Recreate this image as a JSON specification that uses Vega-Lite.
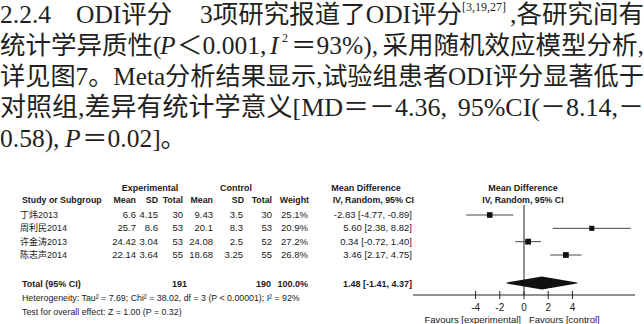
{
  "$schema": "https://vega.github.io/schema/vega-lite/v6.json",
  "width": 644,
  "height": 324,
  "autosize": "none",
  "padding": 0,
  "background": "white",
  "config": {
    "view": {"stroke": null},
    "text": {"font": "Liberation Sans, Noto Sans CJK SC", "color": "#1a1a1a", "baseline": "middle", "fontSize": 9.5}
  },
  "datasets": {
    "studies": [
      {"study": "丁炜2013", "em": 6.6, "esd": 4.15, "en": 30, "cm": 9.43, "csd": 3.5, "cn": 30, "weight": 25.1, "md": -2.83, "lo": -4.77, "hi": -0.89},
      {"study": "周利民2014", "em": 25.7, "esd": 8.6, "en": 53, "cm": 20.1, "csd": 8.3, "cn": 53, "weight": 20.9, "md": 5.60, "lo": 2.38, "hi": 8.82},
      {"study": "许金涛2013", "em": 24.42, "esd": 3.04, "en": 53, "cm": 24.08, "csd": 2.5, "cn": 52, "weight": 27.2, "md": 0.34, "lo": -0.72, "hi": 1.40},
      {"study": "陈志声2014", "em": 22.14, "esd": 3.64, "en": 55, "cm": 18.68, "csd": 3.25, "cn": 55, "weight": 26.8, "md": 3.46, "lo": 2.17, "hi": 4.75}
    ],
    "pooled": [
      {"md": 1.48, "lo": -1.41, "hi": 4.37, "en": 191, "cn": 190, "weight": 100}
    ],
    "ticks": [{"t": -4}, {"t": -2}, {"t": 0}, {"t": 2}, {"t": 4}],
    "blank": [{}]
  },
  "layer": [
    {"data": {"name": "blank"}, "mark": {"type": "text", "text": "2.2.4", "x": 0, "y": 15, "align": "left", "font": "Liberation Serif, Noto Sans CJK SC", "fontSize": 25.5, "color": "#231f20"}},
    {"data": {"name": "blank"}, "mark": {"type": "text", "text": "ODI评分", "x": 76, "y": 15, "align": "left", "font": "Liberation Serif, Noto Sans CJK SC", "fontSize": 25.5, "color": "#231f20"}},
    {"data": {"name": "blank"}, "mark": {"type": "text", "text": "3项研究报道了ODI评分", "x": 200, "y": 15, "align": "left", "font": "Liberation Serif, Noto Sans CJK SC", "fontSize": 25.5, "color": "#231f20"}},
    {"data": {"name": "blank"}, "mark": {"type": "text", "text": "[3,19,27]", "x": 462, "y": 7, "align": "left", "font": "Liberation Serif", "fontSize": 12, "color": "#231f20"}},
    {"data": {"name": "blank"}, "mark": {"type": "text", "text": ",各研究间有", "x": 644, "y": 15, "align": "right", "font": "Liberation Serif, Noto Sans CJK SC", "fontSize": 25.5, "color": "#231f20"}},

    {"data": {"name": "blank"}, "mark": {"type": "text", "text": "统计学异质性(", "x": 0, "y": 46, "align": "left", "font": "Liberation Serif, Noto Sans CJK SC", "fontSize": 25.5, "color": "#231f20"}},
    {"data": {"name": "blank"}, "mark": {"type": "text", "text": "P", "x": 160, "y": 46, "align": "left", "font": "Liberation Serif", "fontStyle": "italic", "fontSize": 25.5, "color": "#231f20"}},
    {"data": {"name": "blank"}, "mark": {"type": "text", "text": "＜0.001,", "x": 177, "y": 46, "align": "left", "font": "Liberation Serif, Noto Sans CJK SC", "fontSize": 25.5, "color": "#231f20"}},
    {"data": {"name": "blank"}, "mark": {"type": "text", "text": "I", "x": 270, "y": 46, "align": "left", "font": "Liberation Serif", "fontStyle": "italic", "fontSize": 25.5, "color": "#231f20"}},
    {"data": {"name": "blank"}, "mark": {"type": "text", "text": "2", "x": 282, "y": 38, "align": "left", "font": "Liberation Serif", "fontSize": 12, "color": "#231f20"}},
    {"data": {"name": "blank"}, "mark": {"type": "text", "text": "＝93%),", "x": 291, "y": 46, "align": "left", "font": "Liberation Serif, Noto Sans CJK SC", "fontSize": 25.5, "color": "#231f20"}},
    {"data": {"name": "blank"}, "mark": {"type": "text", "text": "采用随机效应模型分析,", "x": 644, "y": 46, "align": "right", "font": "Liberation Serif, Noto Sans CJK SC", "fontSize": 25.5, "color": "#231f20"}},

    {"data": {"name": "blank"}, "mark": {"type": "text", "text": "详见图7。Meta分析结果显示,", "x": 0, "y": 77, "align": "left", "font": "Liberation Serif, Noto Sans CJK SC", "fontSize": 25.2, "color": "#231f20"}},
    {"data": {"name": "blank"}, "mark": {"type": "text", "text": "试验组患者ODI评分显著低于", "x": 644, "y": 77, "align": "right", "font": "Liberation Serif, Noto Sans CJK SC", "fontSize": 25.2, "color": "#231f20"}},

    {"data": {"name": "blank"}, "mark": {"type": "text", "text": "对照组,差异有统计学意义[MD＝－4.36,", "x": 0, "y": 108, "align": "left", "font": "Liberation Serif, Noto Sans CJK SC", "fontSize": 26, "color": "#231f20"}},
    {"data": {"name": "blank"}, "mark": {"type": "text", "text": "95%CI(－8.14,－", "x": 644, "y": 108, "align": "right", "font": "Liberation Serif, Noto Sans CJK SC", "fontSize": 26, "color": "#231f20"}},

    {"data": {"name": "blank"}, "mark": {"type": "text", "text": "0.58),", "x": 0, "y": 139, "align": "left", "font": "Liberation Serif, Noto Sans CJK SC", "fontSize": 25.5, "color": "#231f20"}},
    {"data": {"name": "blank"}, "mark": {"type": "text", "text": "P", "x": 65, "y": 139, "align": "left", "font": "Liberation Serif", "fontStyle": "italic", "fontSize": 25.5, "color": "#231f20"}},
    {"data": {"name": "blank"}, "mark": {"type": "text", "text": "＝0.02]。", "x": 82, "y": 139, "align": "left", "font": "Liberation Serif, Noto Sans CJK SC", "fontSize": 25.5, "color": "#231f20"}},

    {"data": {"name": "blank"}, "mark": {"type": "text", "text": "Experimental", "x": 150, "y": 188, "align": "center", "fontWeight": "bold", "fontSize": 9}},
    {"data": {"name": "blank"}, "mark": {"type": "text", "text": "Control", "x": 236, "y": 188, "align": "center", "fontWeight": "bold", "fontSize": 9}},
    {"data": {"name": "blank"}, "mark": {"type": "text", "text": "Mean Difference", "x": 366, "y": 188, "align": "center", "fontWeight": "bold", "fontSize": 9}},
    {"data": {"name": "blank"}, "mark": {"type": "text", "text": "Mean Difference", "x": 523, "y": 188, "align": "center", "fontWeight": "bold", "fontSize": 9}},
    {"data": {"name": "blank"}, "mark": {"type": "text", "text": "Study or Subgroup", "x": 22, "y": 200, "align": "left", "fontWeight": "bold", "fontSize": 8.8}},
    {"data": {"name": "blank"}, "mark": {"type": "text", "text": "Mean", "x": 136, "y": 200, "align": "right", "fontWeight": "bold", "fontSize": 8.8}},
    {"data": {"name": "blank"}, "mark": {"type": "text", "text": "SD", "x": 158, "y": 200, "align": "right", "fontWeight": "bold", "fontSize": 8.8}},
    {"data": {"name": "blank"}, "mark": {"type": "text", "text": "Total", "x": 183, "y": 200, "align": "right", "fontWeight": "bold", "fontSize": 8.8}},
    {"data": {"name": "blank"}, "mark": {"type": "text", "text": "Mean", "x": 213, "y": 200, "align": "right", "fontWeight": "bold", "fontSize": 8.8}},
    {"data": {"name": "blank"}, "mark": {"type": "text", "text": "SD", "x": 244, "y": 200, "align": "right", "fontWeight": "bold", "fontSize": 8.8}},
    {"data": {"name": "blank"}, "mark": {"type": "text", "text": "Total", "x": 272, "y": 200, "align": "right", "fontWeight": "bold", "fontSize": 8.8}},
    {"data": {"name": "blank"}, "mark": {"type": "text", "text": "Weight", "x": 309, "y": 200, "align": "right", "fontWeight": "bold", "fontSize": 8.8}},
    {"data": {"name": "blank"}, "mark": {"type": "text", "text": "IV, Random, 95% CI", "x": 414, "y": 200, "align": "right", "fontWeight": "bold", "fontSize": 8.8}},
    {"data": {"name": "blank"}, "mark": {"type": "text", "text": "IV, Random, 95% CI", "x": 523, "y": 200, "align": "center", "fontWeight": "bold", "fontSize": 8.8}},
    {"data": {"name": "blank"}, "mark": {"type": "rule", "x": 13, "x2": 644, "y": 205, "color": "#222", "strokeWidth": 1}, "encoding": {}},

    {"data": {"name": "studies"}, "mark": {"type": "text", "align": "left", "x": 20, "fontSize": 9},
      "encoding": {"y": {"field": "study", "type": "nominal", "scale": {"type": "point", "domain": ["丁炜2013", "周利民2014", "许金涛2013", "陈志声2014"], "range": [215, 255], "padding": 0}, "axis": null}, "text": {"field": "study"}}},
    {"data": {"name": "studies"}, "mark": {"type": "text", "align": "right", "x": 136},
      "encoding": {"y": {"field": "study", "type": "nominal", "axis": null}, "text": {"field": "em", "type": "nominal"}}},
    {"data": {"name": "studies"}, "mark": {"type": "text", "align": "right", "x": 158},
      "encoding": {"y": {"field": "study", "type": "nominal", "axis": null}, "text": {"field": "esd", "type": "nominal"}}},
    {"data": {"name": "studies"}, "mark": {"type": "text", "align": "right", "x": 183},
      "encoding": {"y": {"field": "study", "type": "nominal", "axis": null}, "text": {"field": "en", "type": "nominal"}}},
    {"data": {"name": "studies"}, "mark": {"type": "text", "align": "right", "x": 213},
      "encoding": {"y": {"field": "study", "type": "nominal", "axis": null}, "text": {"field": "cm", "type": "nominal"}}},
    {"data": {"name": "studies"}, "mark": {"type": "text", "align": "right", "x": 243},
      "encoding": {"y": {"field": "study", "type": "nominal", "axis": null}, "text": {"field": "csd", "type": "nominal"}}},
    {"data": {"name": "studies"}, "mark": {"type": "text", "align": "right", "x": 272},
      "encoding": {"y": {"field": "study", "type": "nominal", "axis": null}, "text": {"field": "cn", "type": "nominal"}}},
    {"data": {"name": "studies"},
      "transform": [{"calculate": "format(datum.weight, '.1f') + '%'", "as": "wLabel"}],
      "mark": {"type": "text", "align": "right", "x": 308},
      "encoding": {"y": {"field": "study", "type": "nominal", "axis": null}, "text": {"field": "wLabel"}}},
    {"data": {"name": "studies"},
      "transform": [{"calculate": "(datum.md < 0 ? '-' : '') + format(abs(datum.md), '.2f') + ' [' + (datum.lo < 0 ? '-' : '') + format(abs(datum.lo), '.2f') + ', ' + (datum.hi < 0 ? '-' : '') + format(abs(datum.hi), '.2f') + ']'", "as": "ciLabel"}],
      "mark": {"type": "text", "align": "right", "x": 412},
      "encoding": {"y": {"field": "study", "type": "nominal", "axis": null}, "text": {"field": "ciLabel"}}},

    {"data": {"name": "blank"}, "mark": {"type": "rule", "y": 205, "y2": 295, "color": "#222", "strokeWidth": 1},
      "encoding": {"x": {"datum": 0, "type": "quantitative", "scale": {"domain": [-9.17, 9.17], "range": [413, 635], "nice": false, "zero": false}, "axis": null}}},
    {"data": {"name": "studies"}, "mark": {"type": "rule", "color": "#444", "strokeWidth": 1},
      "encoding": {
        "x": {"field": "lo", "type": "quantitative", "axis": null},
        "x2": {"field": "hi"},
        "y": {"field": "study", "type": "nominal", "axis": null}}},
    {"data": {"name": "studies"}, "mark": {"type": "point", "shape": "square", "filled": true, "color": "#111", "opacity": 1},
      "encoding": {
        "x": {"field": "md", "type": "quantitative", "axis": null},
        "y": {"field": "study", "type": "nominal", "axis": null},
        "size": {"field": "weight", "type": "quantitative", "scale": {"domain": [0, 27.2], "range": [0, 34]}, "legend": null}}},

    {"data": {"name": "blank"}, "mark": {"type": "text", "text": "Total (95% CI)", "x": 22, "y": 284, "align": "left", "fontWeight": "bold", "fontSize": 9}},
    {"data": {"name": "pooled"}, "mark": {"type": "text", "align": "right", "x": 187, "y": 284, "fontWeight": "bold", "fontSize": 9},
      "encoding": {"text": {"field": "en", "type": "nominal"}}},
    {"data": {"name": "pooled"}, "mark": {"type": "text", "align": "right", "x": 271, "y": 284, "fontWeight": "bold", "fontSize": 9},
      "encoding": {"text": {"field": "cn", "type": "nominal"}}},
    {"data": {"name": "pooled"},
      "transform": [{"calculate": "format(datum.weight, '.1f') + '%'", "as": "wLabel"}],
      "mark": {"type": "text", "align": "right", "x": 308, "y": 284, "fontWeight": "bold", "fontSize": 9},
      "encoding": {"text": {"field": "wLabel"}}},
    {"data": {"name": "pooled"},
      "transform": [{"calculate": "(datum.md < 0 ? '-' : '') + format(abs(datum.md), '.2f') + ' [' + (datum.lo < 0 ? '-' : '') + format(abs(datum.lo), '.2f') + ', ' + (datum.hi < 0 ? '-' : '') + format(abs(datum.hi), '.2f') + ']'", "as": "ciLabel"}],
      "mark": {"type": "text", "align": "right", "x": 412, "y": 284, "fontWeight": "bold", "fontSize": 9},
      "encoding": {"text": {"field": "ciLabel"}}},
    {"data": {"name": "pooled"},
      "transform": [{"fold": ["lo", "md", "hi"], "as": ["key", "value"]}],
      "mark": {"type": "trail", "color": "#111"},
      "encoding": {
        "x": {"field": "value", "type": "quantitative", "axis": null},
        "y": {"value": 283},
        "size": {"condition": {"test": "datum.key === 'md'", "value": 13}, "value": 0}}},
    {"data": {"name": "blank"}, "mark": {"type": "text", "text": "Heterogeneity: Tau² = 7.69; Chi² = 38.02, df = 3 (P < 0.00001); I² = 92%", "x": 22, "y": 298, "align": "left", "fontSize": 8.8}},
    {"data": {"name": "blank"}, "mark": {"type": "text", "text": "Test for overall effect: Z = 1.00 (P = 0.32)", "x": 22, "y": 312, "align": "left", "fontSize": 8.8}},

    {"data": {"name": "blank"}, "mark": {"type": "rule", "y": 295, "color": "#222", "strokeWidth": 1},
      "encoding": {"x": {"datum": -9.17, "type": "quantitative", "axis": null}, "x2": {"datum": 9.17}}},
    {"data": {"name": "ticks"}, "mark": {"type": "rule", "y": 291, "y2": 299, "color": "#222", "strokeWidth": 1},
      "encoding": {"x": {"field": "t", "type": "quantitative", "axis": null}}},
    {"data": {"name": "ticks"}, "mark": {"type": "text", "y": 308, "align": "center", "fontSize": 10},
      "encoding": {"x": {"field": "t", "type": "quantitative", "axis": null}, "text": {"field": "t", "type": "nominal"}}},
    {"data": {"name": "blank"}, "mark": {"type": "text", "text": "Favours [experimental]", "x": 521, "y": 320, "align": "right", "fontSize": 9.5}},
    {"data": {"name": "blank"}, "mark": {"type": "text", "text": "Favours [control]", "x": 529, "y": 320, "align": "left", "fontSize": 9.5}}
  ]
}
